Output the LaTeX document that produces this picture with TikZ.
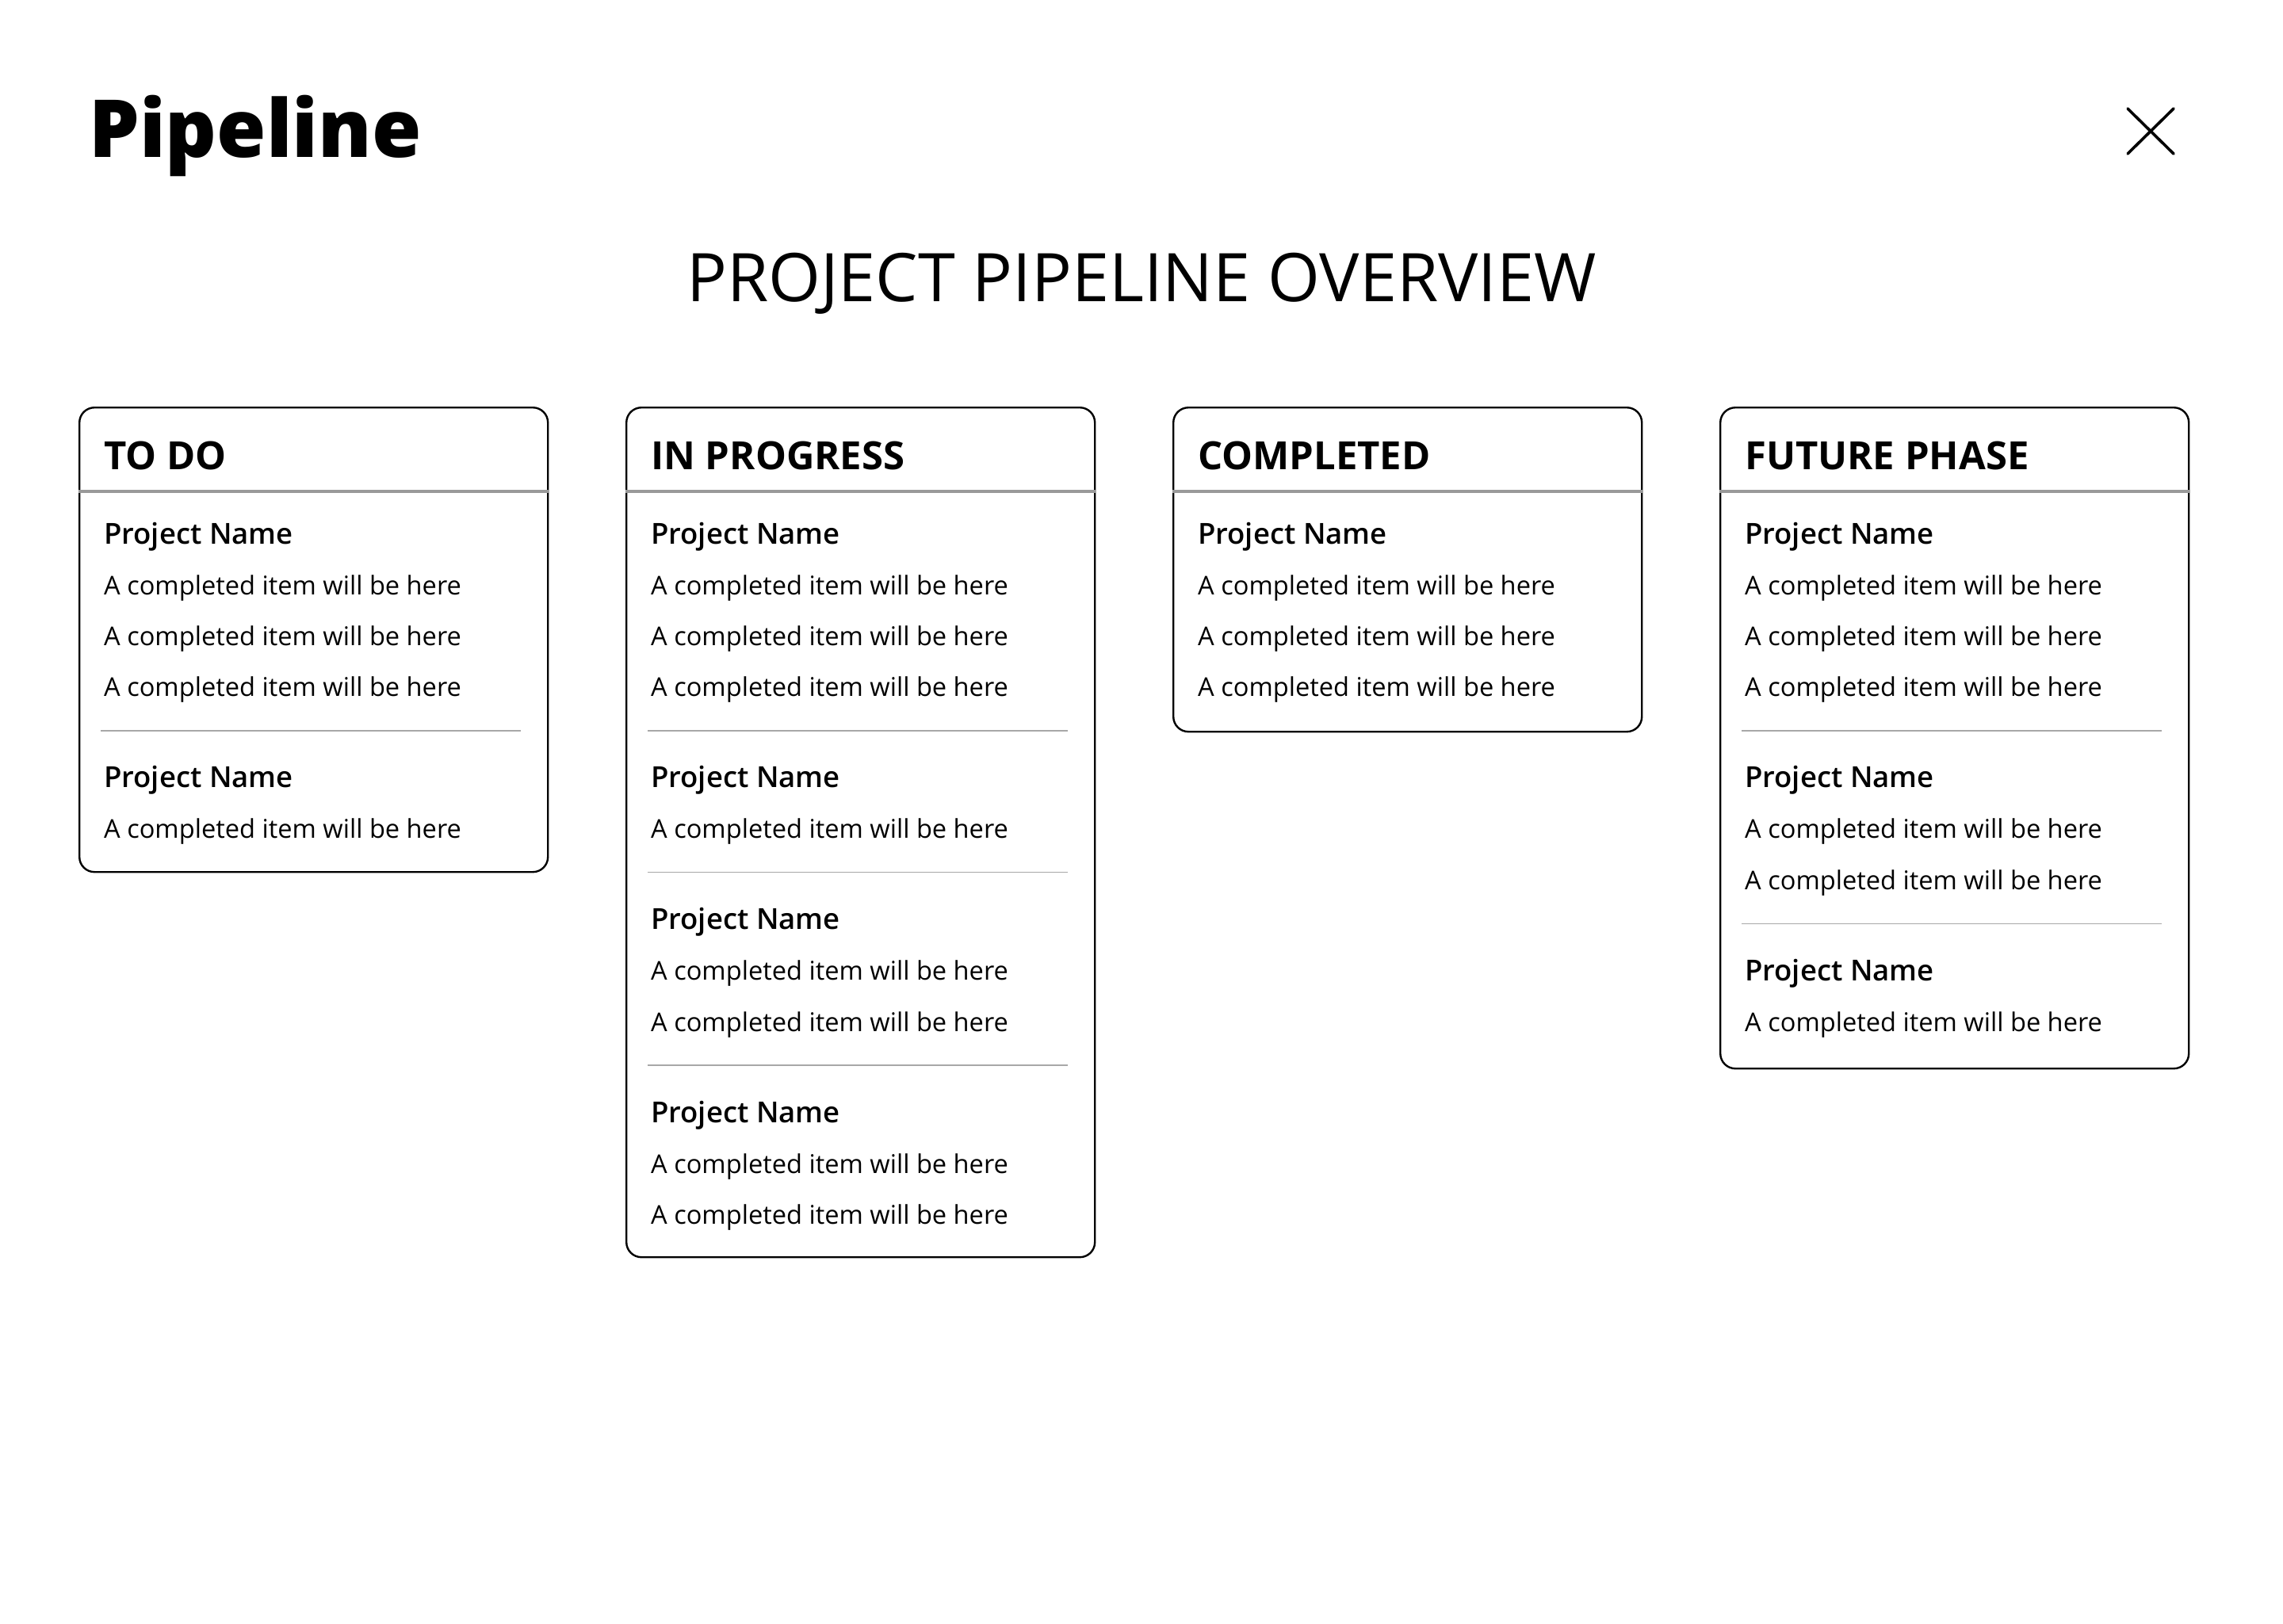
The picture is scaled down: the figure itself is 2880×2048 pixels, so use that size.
\documentclass[tikz,border=0pt]{standalone}
\usepackage{fontspec}
\setmainfont{Open Sans}
\IfFontExistsTF{Open Sans Semibold}{\newfontfamily\semib{Open Sans Semibold}}{%
  \IfFontExistsTF{Open Sans SemiBold}{\newfontfamily\semib{Open Sans SemiBold}}{%
    \newfontfamily\semib{Open Sans}[FakeBold=1.2]}}
\IfFontExistsTF{Open Sans ExtraBold}{\newfontfamily\xbold{Open Sans ExtraBold}}{%
  \IfFontExistsTF{Open Sans Extrabold}{\newfontfamily\xbold{Open Sans Extrabold}}{%
    \newfontfamily\xbold{Open Sans Bold}}}
\definecolor{hdrline}{HTML}{999999}
\definecolor{sepgray}{HTML}{A8A8A8}
\tikzset{
  card/.style={draw=black, line width=2.4pt, rounded corners=19pt, minimum width=591pt, anchor=north west, inner sep=0pt},
  hdr/.style={font=\fontsize{49}{56}\selectfont\bfseries, anchor=base west, inner sep=0pt},
  pname/.style={font=\fontsize{36.5}{42}\semib, anchor=base west, inner sep=0pt},
  itm/.style={font=\fontsize{32.6}{38}\selectfont, anchor=base west, inner sep=0pt},
  hline/.style={draw=hdrline, line width=4pt},
  sepline/.style={draw=sepgray, line width=1.5pt},
}
\begin{document}
\begin{tikzpicture}[x=1pt,y=-1pt]
\useasboundingbox (0,0) rectangle (2880,2048);
% titles
\node[anchor=base west, inner sep=0pt, font=\fontsize{101}{106}\xbold] (logo) at (112,198) {Pipeline};
\node[anchor=base, inner sep=0pt, font=\fontsize{84.6}{90}\selectfont] (title) at (1440,380) {PROJECT PIPELINE OVERVIEW};
% close icon
\coordinate (xa) at (2684,137); \coordinate (xb) at (2742,194);
\coordinate (xc) at (2742,137); \coordinate (xd) at (2684,194);
\draw[line width=3.6pt, line cap=round] (xa) -- (xb);
\draw[line width=3.6pt, line cap=round] (xc) -- (xd);

% ---------- column 1: TO DO (x=99)
\node[card, minimum height=586pt] (c1) at (99,513) {};
\node[hdr] (c1h) at (131,592) {TO DO};
\draw[hline] (c1.west |- 0,620) coordinate (c1l) -- (c1.east |- 0,620) coordinate (c1r);
\node[pname] (c1p1) at (131,686) {Project Name};
\node[itm] (c1i1) at (131,750) {A completed item will be here};
\node[itm] (c1i2) at (131,814) {A completed item will be here};
\node[itm] (c1i3) at (131,878) {A completed item will be here};
\coordinate (c1s1a) at (127,922); \coordinate (c1s1b) at (657,922);
\draw[sepline] (c1s1a) -- (c1s1b);
\node[pname] (c1p2) at (131,993.5) {Project Name};
\node[itm] (c1i4) at (131,1057.5) {A completed item will be here};

% ---------- column 2: IN PROGRESS (x=789)
\node[card, minimum height=1072pt] (c2) at (789,513) {};
\node[hdr] (c2h) at (821,592) {IN PROGRESS};
\draw[hline] (c2.west |- 0,620) coordinate (c2l) -- (c2.east |- 0,620) coordinate (c2r);
\node[pname] (c2p1) at (821,686) {Project Name};
\node[itm] (c2i1) at (821,750) {A completed item will be here};
\node[itm] (c2i2) at (821,814) {A completed item will be here};
\node[itm] (c2i3) at (821,878) {A completed item will be here};
\coordinate (c2s1a) at (817,922); \coordinate (c2s1b) at (1347,922);
\draw[sepline] (c2s1a) -- (c2s1b);
\node[pname] (c2p2) at (821,993.5) {Project Name};
\node[itm] (c2i4) at (821,1057.5) {A completed item will be here};
\coordinate (c2s2a) at (817,1100.5); \coordinate (c2s2b) at (1347,1100.5);
\draw[sepline] (c2s2a) -- (c2s2b);
\node[pname] (c2p3) at (821,1172) {Project Name};
\node[itm] (c2i5) at (821,1236.5) {A completed item will be here};
\node[itm] (c2i6) at (821,1301) {A completed item will be here};
\coordinate (c2s3a) at (817,1344) ; \coordinate (c2s3b) at (1347,1344);
\draw[sepline] (c2s3a) -- (c2s3b);
\node[pname] (c2p4) at (821,1416) {Project Name};
\node[itm] (c2i7) at (821,1480) {A completed item will be here};
\node[itm] (c2i8) at (821,1544.5) {A completed item will be here};

% ---------- column 3: COMPLETED (x=1479)
\node[card, minimum height=409pt] (c3) at (1479,513) {};
\node[hdr] (c3h) at (1511,592) {COMPLETED};
\draw[hline] (c3.west |- 0,620) coordinate (c3l) -- (c3.east |- 0,620) coordinate (c3r);
\node[pname] (c3p1) at (1511,686) {Project Name};
\node[itm] (c3i1) at (1511,750) {A completed item will be here};
\node[itm] (c3i2) at (1511,814) {A completed item will be here};
\node[itm] (c3i3) at (1511,878) {A completed item will be here};

% ---------- column 4: FUTURE PHASE (x=2169)
\node[card, minimum height=834pt] (c4) at (2169,513) {};
\node[hdr] (c4h) at (2201,592) {FUTURE PHASE};
\draw[hline] (c4.west |- 0,620) coordinate (c4l) -- (c4.east |- 0,620) coordinate (c4r);
\node[pname] (c4p1) at (2201,686) {Project Name};
\node[itm] (c4i1) at (2201,750) {A completed item will be here};
\node[itm] (c4i2) at (2201,814) {A completed item will be here};
\node[itm] (c4i3) at (2201,878) {A completed item will be here};
\coordinate (c4s1a) at (2197,922); \coordinate (c4s1b) at (2727,922);
\draw[sepline] (c4s1a) -- (c4s1b);
\node[pname] (c4p2) at (2201,993.5) {Project Name};
\node[itm] (c4i4) at (2201,1057.5) {A completed item will be here};
\node[itm] (c4i5) at (2201,1122) {A completed item will be here};
\coordinate (c4s2a) at (2197,1165.5); \coordinate (c4s2b) at (2727,1165.5);
\draw[sepline] (c4s2a) -- (c4s2b);
\node[pname] (c4p3) at (2201,1237) {Project Name};
\node[itm] (c4i6) at (2201,1301.5) {A completed item will be here};
\end{tikzpicture}
\end{document}
